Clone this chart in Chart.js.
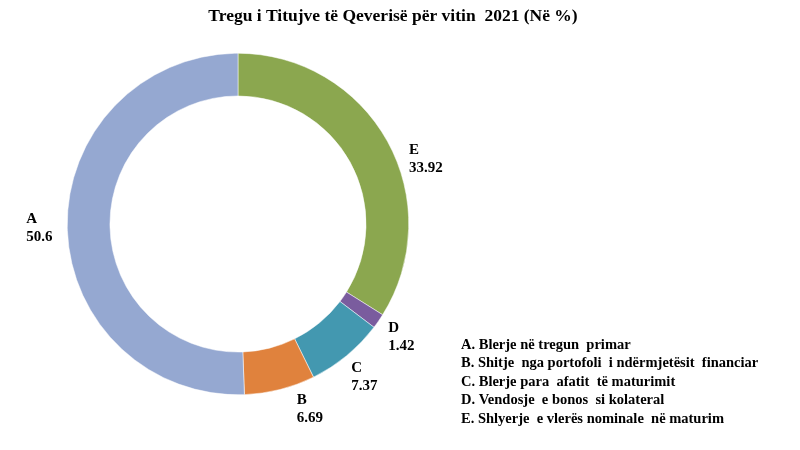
<!DOCTYPE html>
<html>
<head>
<meta charset="utf-8">
<script src="https://cdn.jsdelivr.net/npm/chart.js@4.4.1/dist/chart.umd.min.js"></script>
<style>
    html, body { margin: 0; padding: 0; background: #fff; }
    #wrap { width: 800px; height: 450px; }
</style>
</head>
<body>
<div id="wrap"><canvas id="bondChart"></canvas></div>
<script>
// clockwise from the top
const categories = ['E', 'D', 'C', 'B', 'A'];
const shares = [33.92, 1.42, 7.37, 6.69, 50.6];
const shareLabels = ['33.92', '1.42', '7.37', '6.69', '50.6'];
const legendLines = [
    'A. Blerje në tregun  primar',
    'B. Shitje  nga portofoli  i ndërmjetësit  financiar',
    'C. Blerje para  afatit  të maturimit',
    'D. Vendosje  e bonos  si kolateral',
    'E. Shlyerje  e vlerës nominale  në maturim'
];
const chartTitle = 'Tregu i Titujve të Qeverisë për vitin  2021 (Në %)';

const serif = "'Liberation Serif', 'Times New Roman', serif";

// draws title, slice labels and the text legend
const textPlugin = {
    id: 'textPlugin',
    afterDraw(chart, args, opts) {
        const ctx = chart.ctx;
        ctx.save();
        ctx.fillStyle = '#000';

        // title
        ctx.font = 'bold 17.5px ' + serif;
        ctx.textAlign = 'center';
        ctx.textBaseline = 'middle';
        ctx.fillText(chartTitle, 393, 16);

        // slice labels
        ctx.font = 'bold 15px ' + serif;
        ctx.textAlign = 'left';
        const meta = chart.getDatasetMeta(0);
        meta.data.forEach((arc, i) => {
            const p = arc.getProps(['x', 'y', 'startAngle', 'endAngle', 'outerRadius'], true);
            const nudge = (opts.nudge[categories[i]] || 0) * Math.PI / 180;
            const mid = (p.startAngle + p.endAngle) / 2 + nudge;
            const r = p.outerRadius + 28;
            const cx = p.x + Math.cos(mid) * r;
            const cy = p.y + Math.sin(mid) * r;
            const w = Math.max(ctx.measureText(categories[i]).width, ctx.measureText(shareLabels[i]).width);
            ctx.fillText(categories[i], cx - w / 2, cy - 9);
            ctx.fillText(shareLabels[i], cx - w / 2, cy + 9);
        });

        // legend
        ctx.font = 'bold 14.5px ' + serif;
        legendLines.forEach((line, i) => {
            ctx.fillText(line, 461, 345 + i * 18.5);
        });
        ctx.restore();
    }
};

const ctx = document.getElementById('bondChart').getContext('2d');
new Chart(ctx, {
    type: 'doughnut',
    data: {
        labels: categories,
        datasets: [{
            data: shares,
            backgroundColor: ['#8BA74F', '#7A5C9E', '#4398B0', '#E0823D', '#95A8D1'],
            borderColor: '#ffffff',
            borderWidth: 0.5
        }]
    },
    options: {
        responsive: true,
        maintainAspectRatio: false,
        animation: false,
        cutout: '75%',
        layout: { padding: { left: 67, right: 391, top: 53, bottom: 55 } },
        plugins: {
            legend: { display: false },
            title: { display: false },
            tooltip: { enabled: false },
            textPlugin: { nudge: { E: 10, B: -7 } }
        }
    },
    plugins: [textPlugin]
});
</script>
</body>
</html>
